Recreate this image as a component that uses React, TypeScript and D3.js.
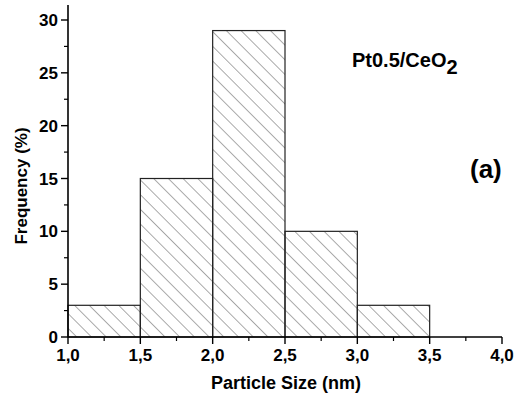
import React from 'react';
import * as d3 from 'd3';

// bins (nm) and frequency (%)
const binStarts = [1.0, 1.5, 2.0, 2.5, 3.0];
const binWidth = 0.5;
const frequencies = [3, 15, 29, 10, 3];
const xTicks = [1.0, 1.5, 2.0, 2.5, 3.0, 3.5, 4.0];
const yTicks = [0, 5, 10, 15, 20, 25, 30];

const W = 517;
const H = 396;
const margin = { top: 20, right: 15, bottom: 59, left: 68 };
const FONT = '"Liberation Sans", Arial, Helvetica, sans-serif';

export default function App() {
  const iw = W - margin.left - margin.right;
  const ih = H - margin.top - margin.bottom;

  const x = d3.scaleLinear().domain([1, 4]).range([0, iw]);
  const y = d3.scaleLinear().domain([0, 30]).range([ih, 0]);

  const minorX = d3.range(1.25, 4, 0.5);
  const minorY = d3.range(2.5, 30, 5);
  const fmt = (v: number) => v.toFixed(1).replace('.', ',');

  return (
    <svg width={W} height={H} style={{ position: 'absolute', left: 0, top: 0 }}>
      <defs>
        <pattern id="hatch" patternUnits="userSpaceOnUse" width={10.4} height={10.4}
          patternTransform="rotate(-45)">
          <line x1={0} y1={0} x2={0} y2={10.4} stroke="#555" strokeWidth={1} />
        </pattern>
      </defs>
      <rect width={W} height={H} fill="#fff" />
      <g transform={`translate(${margin.left},${margin.top})`}>
        {/* bars */}
        {binStarts.map((b, i) => (
          <rect key={i}
            x={x(b)} y={y(frequencies[i])}
            width={x(b + binWidth) - x(b)} height={ih - y(frequencies[i])}
            fill="url(#hatch)" stroke="#222" strokeWidth={1.2} />
        ))}

        {/* x axis */}
        <line x1={0} x2={iw} y1={ih} y2={ih} stroke="#000" strokeWidth={1.6} />
        {xTicks.map(t => (
          <g key={t}>
            <line x1={x(t)} x2={x(t)} y1={ih} y2={ih + 7} stroke="#000" strokeWidth={1.4} />
            <text x={x(t)} y={ih + 24} textAnchor="middle" fontFamily={FONT}
              fontWeight="bold" fontSize={17}>{fmt(t)}</text>
          </g>
        ))}
        {minorX.map(t => (
          <line key={t} x1={x(t)} x2={x(t)} y1={ih} y2={ih + 4} stroke="#000" strokeWidth={1.2} />
        ))}

        {/* y axis */}
        <line x1={0} x2={0} y1={-15} y2={ih} stroke="#000" strokeWidth={1.6} />
        {yTicks.map(t => (
          <g key={t}>
            <line x1={-7} x2={0} y1={y(t)} y2={y(t)} stroke="#000" strokeWidth={1.4} />
            <text x={-10} y={y(t)} dy="0.36em" textAnchor="end" fontFamily={FONT}
              fontWeight="bold" fontSize={17}>{t}</text>
          </g>
        ))}
        {minorY.map(t => (
          <line key={t} x1={-4} x2={0} y1={y(t)} y2={y(t)} stroke="#000" strokeWidth={1.2} />
        ))}
      </g>

      {/* axis titles */}
      <text x={286} y={389} textAnchor="middle" fontFamily={FONT}
        fontWeight="bold" fontSize={18}>Particle Size (nm)</text>
      <text transform="translate(27,186) rotate(-90)" textAnchor="middle"
        fontFamily={FONT} fontWeight="bold" fontSize={17}>Frequency (%)</text>

      {/* annotations */}
      <text x={352} y={66.5} fontFamily={FONT} fontWeight="bold" fontSize={20}>
        Pt0.5/CeO<tspan dy={7} fontSize={20}>2</tspan>
      </text>
      <text x={470} y={178} fontFamily={FONT} fontWeight="bold" fontSize={26}>(a)</text>
    </svg>
  );
}
